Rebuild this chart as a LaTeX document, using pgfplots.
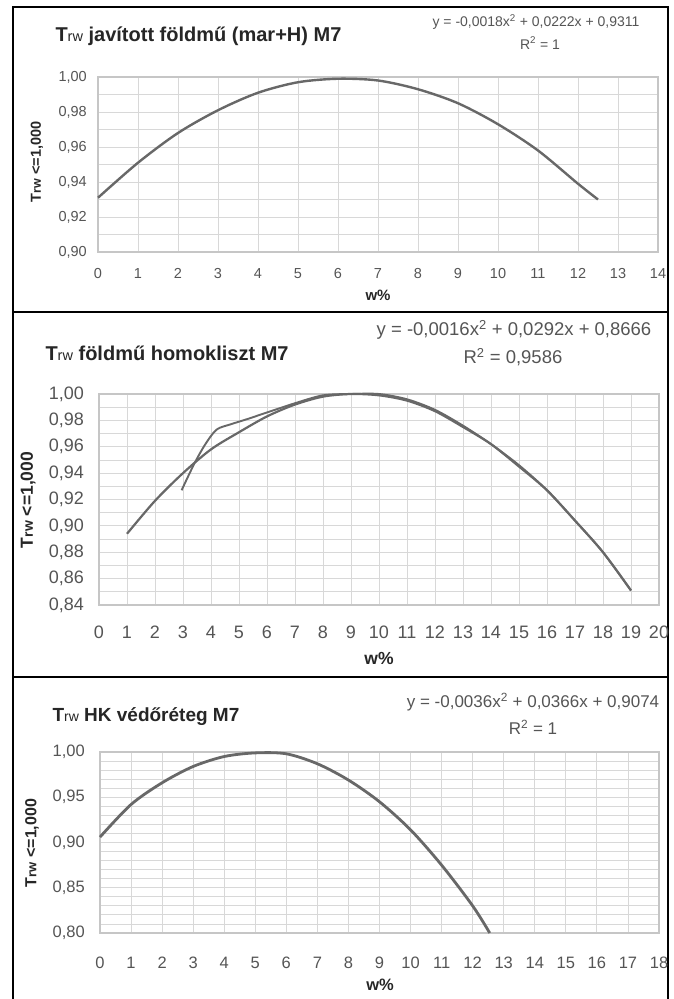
\documentclass[border=0pt]{standalone}
\usepackage{pgfplots}
\pgfplotsset{compat=1.18}
\usepackage{fontspec}
\setmainfont{Liberation Sans}

\definecolor{curve}{HTML}{686868}
\definecolor{gridc}{HTML}{D8D8D8}
\definecolor{framec}{HTML}{C6C6C6}
\definecolor{txt}{HTML}{555555}
\definecolor{dark}{HTML}{262626}
\newcommand{\fs}[1]{\fontsize{#1}{#1}\selectfont}

\pgfplotsset{
  panel/.style={
    scale only axis, anchor=south west, clip=false,
    xmin=0, grid=both,
    major grid style={gridc, line width=0.8pt},
    minor grid style={gridc, line width=0.8pt},
    axis line style={framec, line width=1.4pt},
    major tick length=0pt, minor tick length=0pt,
    /pgf/number format/assume math mode=true,
    ticklabel style={text=txt, inner sep=0pt},
    yticklabel style={anchor=east,
      /pgf/number format/fixed, /pgf/number format/fixed zerofill,
      /pgf/number format/precision=2, /pgf/number format/use comma},
    xticklabel style={anchor=base},
    every axis plot/.append style={curve, smooth, no marks},
  },
}

\begin{document}
\begin{tikzpicture}
\useasboundingbox (0,0) rectangle (674pt,999pt);
\fill[white] (0,0) rectangle (674pt,999pt);

% panel frames
\draw[line width=1.5pt] (13pt,992pt) rectangle (668pt,687pt);
\draw[line width=1.5pt] (13pt,687pt) rectangle (668pt,322pt);
\draw[line width=1.5pt] (13pt,0pt) -- (13pt,322pt) (668pt,0pt) -- (668pt,322pt);

% ---------- panel 1 ----------
\begin{axis}[panel, at={(98pt,747pt)}, width=560pt, height=175pt,
    xmax=14, ymin=0.90, ymax=1.00,
    xtick={0,1,...,14},
    ytick={0.90,0.92,0.94,0.96,0.98,1.00},
    minor ytick={0.91,0.93,0.95,0.97,0.99},
    ticklabel style={font=\fs{14.5}},
    xticklabel style={yshift=-27pt},
    yticklabel style={xshift=-11pt}]
\addplot[line width=2.4pt] coordinates {
  (0,0.931) (1,0.951) (2,0.968) (3,0.981) (4,0.991) (5,0.997) (6,0.999)
  (7,0.998) (8,0.993) (9,0.985) (10,0.973) (11,0.958) (12,0.939) (12.5,0.930)};
\end{axis}
\node[anchor=west, text=dark, font=\bfseries\fs{20}] at (52pt,963pt)
  {T{\mdseries\fs{14.5}rw} javított földmű (mar+H) M7};
\node[text=txt, font=\fs{14}] at (536pt,977pt) {y = -0,0018x\textsuperscript{2} + 0,0222x + 0,9311};
\node[text=txt, font=\fs{14}] at (540pt,956pt) {R\textsuperscript{2} = 1};
\node[rotate=90, text=dark, font=\bfseries\fs{14.5}] at (37pt,837pt) {T{\fs{12.5}rw} <=1,000};
\node[text=dark, font=\bfseries\fs{15}] at (378pt,704pt) {w\%};

% ---------- panel 2 ----------
\begin{axis}[panel, at={(99pt,394pt)}, width=560pt, height=211pt,
    xmax=20, ymin=0.84, ymax=1.00,
    xtick={0,1,...,20},
    ytick={0.84,0.86,0.88,0.90,0.92,0.94,0.96,0.98,1.00},
    minor ytick={0.85,0.87,0.89,0.91,0.93,0.95,0.97,0.99},
    ticklabel style={font=\fs{18}},
    xticklabel style={yshift=-33.5pt},
    yticklabel style={xshift=-15pt}]
% trend line
\addplot[line width=2.2pt] coordinates {
  (1,0.894) (2,0.919) (3,0.940) (4,0.958) (5,0.971) (6,0.983) (7,0.992)
  (8,0.998) (9,1.000) (10,0.999) (11,0.995) (12,0.987) (13,0.975)
  (14,0.962) (15,0.945) (16,0.927) (17,0.904) (18,0.880) (19,0.851)};
% measured
\addplot[line width=1.9pt] coordinates {
  (2.95,0.927) (3.4,0.947) (3.8,0.962) (4.2,0.973) (4.7,0.977) (5.3,0.981)
  (6,0.986) (7,0.993) (8,0.999) (9,1.000) (10,1.000) (11,0.996) (12,0.988)
  (13,0.976) (14,0.962) (15,0.946) (16,0.927) (17,0.904) (18,0.880) (19,0.851)};
\end{axis}
\node[anchor=west, text=dark, font=\bfseries\fs{20}] at (42pt,646pt)
  {T{\mdseries\fs{14.5}rw} földmű homokliszt M7};
\node[text=txt, font=\fs{18.5}] at (514pt,669pt) {y = -0,0016x\textsuperscript{2} + 0,0292x + 0,8666};
\node[text=txt, font=\fs{18.5}] at (513pt,642pt) {R\textsuperscript{2} = 0,9586};
\node[rotate=90, text=dark, font=\bfseries\fs{17.5}] at (28pt,499pt) {T{\fs{14}rw} <=1,000};
\node[text=dark, font=\bfseries\fs{17.5}] at (379pt,341pt) {w\%};

% ---------- panel 3 ----------
\begin{axis}[panel, at={(100pt,66pt)}, width=559pt, height=181pt,
    xmax=18, ymin=0.80, ymax=1.00,
    xtick={0,1,...,18},
    ytick={0.80,0.85,0.90,0.95,1.00},
    minor ytick={0.81,0.82,0.83,0.84,0.86,0.87,0.88,0.89,0.91,0.92,0.93,0.94,0.96,0.97,0.98,0.99},
    ticklabel style={font=\fs{16.5}},
    xticklabel style={yshift=-35pt},
    yticklabel style={xshift=-15pt}]
\addplot[line width=2.8pt] coordinates {
  (0,0.906) (1,0.942) (2,0.966) (3,0.984) (4,0.995) (5,0.999) (6,0.998)
  (7,0.987) (8,0.969) (9,0.945) (10,0.914) (11,0.875) (12,0.830) (12.55,0.800)};
\end{axis}
\node[anchor=west, text=dark, font=\bfseries\fs{19}] at (49pt,282pt)
  {T{\mdseries\fs{14}rw} HK védőréteg M7};
\node[text=txt, font=\fs{17}] at (533pt,297pt) {y = -0,0036x\textsuperscript{2} + 0,0366x + 0,9074};
\node[text=txt, font=\fs{17}] at (533pt,272pt) {R\textsuperscript{2} = 1};
\node[rotate=90, text=dark, font=\bfseries\fs{16}] at (32pt,156pt) {T{\fs{13}rw} <=1,000};
\node[text=dark, font=\bfseries\fs{16.5}] at (380pt,14pt) {w\%};
\end{tikzpicture}
\end{document}
